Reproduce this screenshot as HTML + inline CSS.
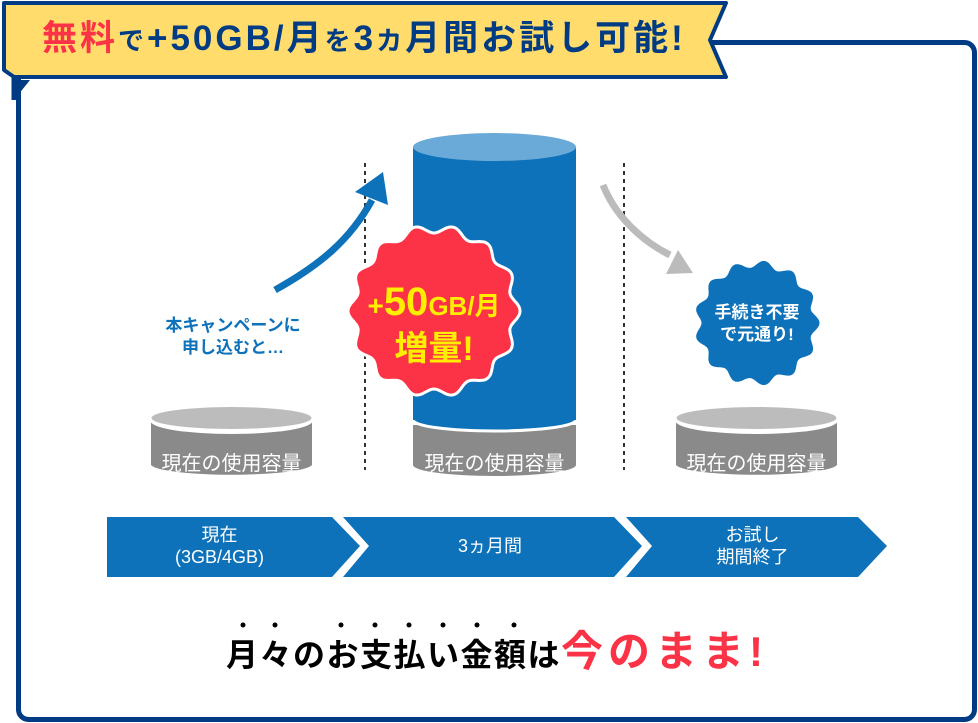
<!DOCTYPE html>
<html><head><meta charset="utf-8"><style>
html,body{margin:0;padding:0;background:#fff;}
body{width:978px;height:723px;overflow:hidden;position:relative;font-family:"Liberation Sans","Noto Sans CJK JP",sans-serif;}
.t{position:absolute;white-space:nowrap;font-weight:bold;}
</style></head><body>
<svg width="978" height="723" style="position:absolute;left:0;top:0">
<rect x="18.5" y="42.5" width="956" height="677" rx="10" fill="#fff" stroke="#003b83" stroke-width="5"/>
<polygon points="14,80 14,100 30,80" fill="#003b83"/>
<polygon points="4,3 726,3 710,40 726,77 14,77 4,70" fill="#ffdc6b" stroke="#003b83" stroke-width="4" stroke-linejoin="round"/>
<line x1="14" y1="78" x2="14" y2="100" stroke="#003b83" stroke-width="5"/>
<line x1="365" y1="163" x2="365" y2="470" stroke="#333" stroke-width="2" stroke-dasharray="4,4"/>
<line x1="624" y1="163" x2="624" y2="470" stroke="#333" stroke-width="2" stroke-dasharray="4,4"/>
<path d="M151,421 L151,465 A81,11 0 0 0 312,465 L312,421 Z" fill="#8a8a8a"/>
<ellipse cx="231.5" cy="421" rx="81" ry="13" fill="#fff"/>
<ellipse cx="231.5" cy="418" rx="80" ry="11" fill="#bcbcbc"/>
<path d="M676,421 L676,465 A81,11 0 0 0 837,465 L837,421 Z" fill="#8a8a8a"/>
<ellipse cx="756.5" cy="421" rx="81" ry="13" fill="#fff"/>
<ellipse cx="756.5" cy="418" rx="80" ry="11" fill="#bcbcbc"/>
<path d="M413,425 L413,465 A81.5,11 0 0 0 576,465 L576,425 Z" fill="#8a8a8a"/>
<path d="M413,147 L413,420 A81.5,11 0 0 0 576,420 L576,147 Z" fill="#0d72b9"/>
<path d="M413,420 A81.5,11 0 0 0 576,420" fill="none" stroke="#fff" stroke-width="3"/>
<ellipse cx="494.5" cy="147" rx="81.5" ry="14" fill="#6aaad8"/>
<path d="M275,290 C320,265 350,240 372,200" fill="none" stroke="#0d72b9" stroke-width="7"/>
<polygon points="383,172 388,205 355,192" fill="#0d72b9"/>
<path d="M603,185 C615,215 640,240 670,255" fill="none" stroke="#bbb" stroke-width="7"/>
<polygon points="693,273 666,274 678,250" fill="#bbb"/>
<g id="bursts"></g>
<polygon points="107,517 332,517 360,546 332,577 107,577" fill="#0d72b9"/>
<polygon points="343,517 614,517 642,546 614,577 343,577 369,546" fill="#0d72b9"/>
<polygon points="626,517 858,517 887,546 858,577 626,577 652,546" fill="#0d72b9"/>
<g fill="#000"><circle cx="243" cy="625" r="2.5"/><circle cx="275" cy="625" r="2.5"/><circle cx="341" cy="625" r="2.5"/><circle cx="375" cy="625" r="2.5"/><circle cx="409" cy="625" r="2.5"/><circle cx="443" cy="625" r="2.5"/><circle cx="477" cy="625" r="2.5"/><circle cx="514" cy="625" r="2.5"/></g>
</svg>
<script>
function burst(cx,cy,r,amp,n,fill,stroke){
 var d="";for(var i=0;i<=360;i++){var a=i*Math.PI/180;var rr=r+amp*Math.cos(n*a);d+=(i?"L":"M")+(cx+rr*Math.cos(a)).toFixed(1)+","+(cy+rr*Math.sin(a)).toFixed(1);}
 return '<path d="'+d+'Z" fill="'+fill+'" stroke="'+stroke+'" stroke-width="3"/>';}
document.getElementById("bursts").innerHTML=burst(434,311,82,4,14,"#fc3246","#fff")+burst(757,323,59,3.5,13,"#0d72b9","none");
</script>
<div class="t" style="left:42px;top:17px;font-size:35px;line-height:44px;color:#003b83;letter-spacing:3px"><span style="color:#fc3246">無料</span><span style="font-size:26px">で</span>+50GB/月<span style="font-size:26px">を</span>3<span style="font-size:26px">カ</span>月間お試し可能!</div>
<div class="t" style="left:352px;top:280px;width:164px;text-align:center;font-size:40px;line-height:44px;color:#ffee00"><span style="font-size:28px">+</span>50<span style="font-size:26px">GB/月</span></div>
<div class="t" style="left:352px;top:328px;width:164px;text-align:center;font-size:34px;line-height:42px;color:#ffee00">増量!</div>
<div class="t" style="left:697px;top:302px;width:120px;text-align:center;font-size:17px;line-height:22px;color:#fff">手続き不要<br>で元通り!</div>
<div class="t" style="left:148px;top:315px;width:170px;text-align:center;font-size:17px;line-height:22px;color:#0d72b9">本キャンペーンに<br>申し込むと…</div>
<div class="t" style="left:151px;top:447px;width:161px;text-align:center;font-size:20px;color:#fff;font-weight:normal">現在の使用容量</div>
<div class="t" style="left:413px;top:447px;width:163px;text-align:center;font-size:20px;color:#fff;font-weight:normal">現在の使用容量</div>
<div class="t" style="left:676px;top:447px;width:161px;text-align:center;font-size:20px;color:#fff;font-weight:normal">現在の使用容量</div>
<div class="t" style="left:107px;top:524px;width:225px;text-align:center;font-size:18px;line-height:22px;color:#fff;font-weight:normal">現在<br>(3GB/4GB)</div>
<div class="t" style="left:360px;top:535px;width:260px;text-align:center;font-size:18px;line-height:22px;color:#fff;font-weight:normal">3ヵ月間</div>
<div class="t" style="left:640px;top:524px;width:225px;text-align:center;font-size:18px;line-height:22px;color:#fff;font-weight:normal">お試し<br>期間終了</div>
<div class="t" style="left:226px;top:630px;font-size:32px;line-height:44px;color:#000;letter-spacing:1.5px">月々のお支払い金額は<span style="color:#fc3246;font-size:42px;letter-spacing:5px">今のまま!</span></div>
</body></html>
